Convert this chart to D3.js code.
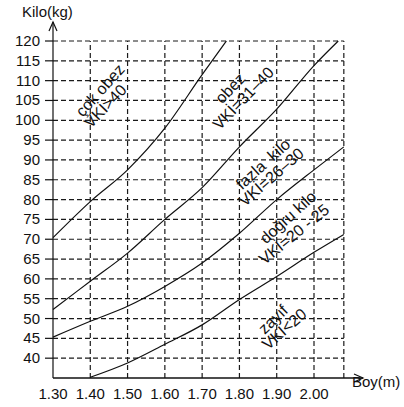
<!DOCTYPE html>
<html lang="tr">
<head>
<meta charset="UTF-8">
<title>Boy - Kilo (VKİ)</title>
<script src="https://d3js.org/d3.v7.min.js"></script>
<style>
  body { margin: 0; background: #fff; }
  svg text { font-family: "Liberation Sans", Arial, sans-serif; fill: #111; }
  .grid line { stroke: #1a1a1a; stroke-width: 1.2; stroke-dasharray: 5,3; }
  .curve { fill: none; stroke: #111; stroke-width: 1.2; }
</style>
</head>
<body>
<svg width="404" height="407"></svg>
<script>
// tick values
var boyTicks = [1.30, 1.40, 1.50, 1.60, 1.70, 1.80, 1.90, 2.00];
var kiloTicks = [40, 45, 50, 55, 60, 65, 70, 75, 80, 85, 90, 95, 100, 105, 110, 115, 120];

// boundary curves (boy in m, kilo in kg)
var vki40Boy  = [1.30, 1.40, 1.50, 1.60, 1.70, 1.765];
var vki40Kilo = [70.4, 79.5, 87.5, 98, 111.5, 120];
var vki30Boy  = [1.30, 1.40, 1.50, 1.60, 1.70, 1.80, 1.90, 2.00, 2.065];
var vki30Kilo = [52.3, 59.4, 66.5, 75, 83, 93.3, 102.8, 113.8, 120];
var vki25Boy  = [1.30, 1.40, 1.50, 1.60, 1.70, 1.80, 1.90, 2.00, 2.08];
var vki25Kilo = [45.3, 49.3, 53.1, 58.1, 64, 71.5, 80, 87.5, 93.3];
var vki20Boy  = [1.40, 1.50, 1.60, 1.70, 1.80, 1.90, 2.00, 2.08];
var vki20Kilo = [35.2, 38.8, 43.5, 48.4, 54.8, 60.6, 66.7, 71.2];

// region labels
var labelText  = ["çok obez", "VKİ>40", "obez", "VKİ=31–40", "fazla  kilo", "VKİ=26–30",
                  "doğru kilo", "VKİ=20 - 25", "zayıf", "VKİ<20"];
var labelBoy   = [1.426, 1.44, 1.775, 1.81, 1.863, 1.885, 1.93, 1.946, 1.89, 1.92];
var labelKilo  = [107.6, 103.6, 108.1, 105.6, 89, 85.7, 75.6, 71.3, 49.8, 47.4];
var labelAngle = [-48, -46, -46, -46, -42, -41, -42, -39, -44, -41];

var svg = d3.select("svg");
var x = d3.scaleLinear().domain([1.30, 2.00]).range([53, 314]);
var y = d3.scaleLinear().domain([35, 120]).range([378, 41]);
var xEnd = 2.08;

// grid
var grid = svg.append("g").attr("class", "grid");
grid.selectAll(".h").data(kiloTicks).enter().append("line")
    .attr("x1", x(1.30)).attr("x2", x(xEnd))
    .attr("y1", function(d) { return y(d); })
    .attr("y2", function(d) { return y(d); });
grid.selectAll(".v").data(boyTicks.slice(1).concat([xEnd])).enter().append("line")
    .attr("x1", function(d) { return x(d); })
    .attr("x2", function(d) { return x(d); })
    .attr("y1", y(35)).attr("y2", y(120));

// small ticks on the kilo axis
svg.append("g").selectAll("line").data(kiloTicks).enter().append("line")
    .attr("x1", x(1.30) - 8).attr("x2", x(1.30))
    .attr("y1", function(d) { return y(d); })
    .attr("y2", function(d) { return y(d); })
    .attr("stroke", "#111").attr("stroke-width", 1.2);

// axes with arrows
svg.append("line").attr("x1", x(1.30)).attr("x2", x(1.30))
    .attr("y1", y(35)).attr("y2", 22)
    .attr("stroke", "#111").attr("stroke-width", 1.2);
svg.append("path").attr("d", "M" + (x(1.30) - 4) + ",31L" + x(1.30) + ",22L" + (x(1.30) + 4) + ",31")
    .attr("fill", "none").attr("stroke", "#111").attr("stroke-width", 1.2);
svg.append("line").attr("x1", x(1.30)).attr("x2", 363)
    .attr("y1", y(35)).attr("y2", y(35))
    .attr("stroke", "#111").attr("stroke-width", 1.6);
svg.append("path").attr("d", "M354," + (y(35) - 4) + "L363," + y(35) + "L354," + (y(35) + 4))
    .attr("fill", "none").attr("stroke", "#111").attr("stroke-width", 1.2);

// tick labels
svg.append("g").selectAll("text").data(kiloTicks).enter().append("text")
    .attr("x", 40)
    .attr("y", function(d) { return y(d) + 5; })
    .attr("text-anchor", "end")
    .attr("font-size", 15)
    .text(function(d) { return d; });
svg.append("g").selectAll("text").data(boyTicks).enter().append("text")
    .attr("x", function(d) { return x(d); })
    .attr("y", 399)
    .attr("text-anchor", "middle")
    .attr("font-size", 15)
    .text(function(d) { return d.toFixed(2); });

svg.append("text").attr("x", 22).attr("y", 17).attr("font-size", 15).text("Kilo(kg)");
svg.append("text").attr("x", 352).attr("y", 387).attr("font-size", 15).text("Boy(m)");

// curves
var line = d3.line()
    .x(function(d) { return x(d[0]); })
    .y(function(d) { return y(d[1]); })
    .curve(d3.curveMonotoneX);
[[vki40Boy, vki40Kilo], [vki30Boy, vki30Kilo], [vki25Boy, vki25Kilo], [vki20Boy, vki20Kilo]]
    .forEach(function(s) {
        svg.append("path").attr("class", "curve")
            .attr("d", line(d3.zip(s[0], s[1])));
    });

// labels
svg.append("g").selectAll("text").data(labelText).enter().append("text")
    .attr("transform", function(d, i) {
        return "translate(" + x(labelBoy[i]) + "," + y(labelKilo[i]) + ") rotate(" + labelAngle[i] + ")";
    })
    .attr("text-anchor", "middle")
    .attr("dy", "0.35em")
    .attr("font-size", 16)
    .style("white-space", "pre")
    .text(function(d) { return d; });
</script>
</body>
</html>
